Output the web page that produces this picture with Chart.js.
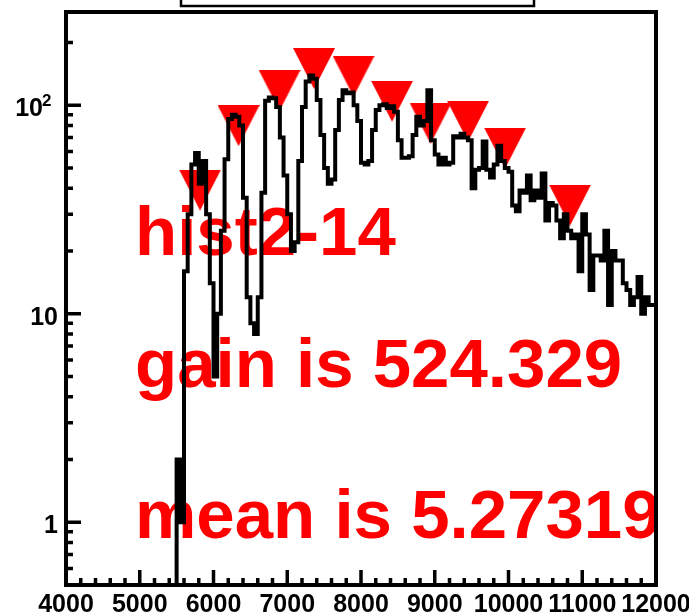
<!DOCTYPE html>
<html lang="en">
<head>
<meta charset="UTF-8" />
<title>hist2-14</title>
<script src="https://cdn.jsdelivr.net/npm/chart.js"></script>
<style>
  body { margin: 0; background: #fff; }
  canvas { display: block; }
</style>
</head>
<body>

<canvas id="histChart" width="689" height="615"></canvas>

<script>
  // histogram contents, 50 wide bins starting at 5500 (empty bins drawn on the log floor)
  const binStart = 5500;
  const binWidth = 50;
  const counts = [
    0,
    2, 1, 16, 30, 52, 59, 42, 54, 30, 14,
    5, 10, 25, 55, 86, 90, 88, 80, 36, 12,
    9, 8, 12, 38, 105, 109, 108, 98, 70, 46,
    30, 20, 22, 54, 98, 130, 139, 134, 106, 72,
    50, 42, 44, 76, 106, 118, 114, 115, 100, 84,
    53, 52, 54, 76, 95, 100, 101, 97, 99, 93,
    68, 56, 56, 57, 72, 88, 80, 84, 118, 68,
    58, 52, 56, 52, 53, 71, 70, 73, 70, 68,
    40, 49, 50, 67, 49, 45, 52, 64, 54, 50,
    48, 33, 31, 39, 38, 46, 35, 39, 36, 47,
    28, 34, 33, 28, 23, 30, 25, 23, 24, 16,
    30, 24, 13, 19, 19, 18, 25, 11, 20, 18,
    18, 14, 13, 11, 12, 15, 10, 12, 11
  ];

  // peak markers
  const peakX = [5817, 6339, 6895, 7363, 7899, 8421, 8943, 9451, 9953, 10834];
  const peakY = [39.2, 79.8, 118, 150, 138, 104.5, 82, 83.8, 62.3, 33.2];

  // axes
  const xTickValues = [4000, 5000, 6000, 7000, 8000, 9000, 10000, 11000, 12000];
  const xTickLabels = ['4000', '5000', '6000', '7000', '8000', '9000', '10000', '11000', '12000'];
  const yTickValues = [1, 10, 100];
  const yTickLabels = ['1', '10', '10^2'];
  const yMinorTicks = [0.6, 0.7, 0.8, 0.9, 2, 3, 4, 5, 6, 7, 8, 9, 20, 30, 40, 50, 60, 70, 80, 90, 200];

  const textLines = ['hist2-14', 'gain is 524.329', 'mean is 5.27319'];

  const xMin = 4000, xMax = 12000;
  const yMin = 0.5, yMax = 280;

  const histPoints = counts.map((c, i) => ({ x: binStart + i * binWidth, y: c > 0 ? c : yMin }));
  histPoints.push({ x: binStart + counts.length * binWidth, y: counts[counts.length - 1] });

  const peakPoints = peakX.map((x, i) => ({ x: x, y: peakY[i] }));

  // ROOT style down triangle marker
  const tri = document.createElement('canvas');
  tri.width = 42;
  tri.height = 41;
  const tctx = tri.getContext('2d');
  tctx.fillStyle = '#ff0000';
  tctx.beginPath();
  tctx.moveTo(0, 0);
  tctx.lineTo(42, 0);
  tctx.lineTo(21, 41);
  tctx.closePath();
  tctx.fill();

  const axisFont = { family: 'Liberation Sans', weight: 'bold', size: 25 };

  const rootFrame = {
    id: 'rootFrame',
    beforeDatasetsDraw(chart) {
      const ctx = chart.ctx;
      const a = chart.chartArea;
      const baselines = [255, 387, 538];
      ctx.save();
      ctx.fillStyle = '#ff0000';
      ctx.font = 'bold 69px "Liberation Sans"';
      ctx.textBaseline = 'alphabetic';
      ctx.textAlign = 'left';
      textLines.forEach((t, i) => ctx.fillText(t, a.left + 69, baselines[i]));
      ctx.restore();
    },
    afterDraw(chart) {
      const ctx = chart.ctx;
      const a = chart.chartArea;
      const xs = chart.scales.x;
      const ys = chart.scales.y;
      ctx.save();
      ctx.strokeStyle = '#000';
      ctx.lineCap = 'butt';

      // ticks pointing into the frame
      ctx.lineWidth = 3.5;
      ctx.beginPath();
      for (let v = xMin; v <= xMax; v += 200) {
        const len = xTickValues.includes(v) ? 15 : 7;
        const px = xs.getPixelForValue(v);
        ctx.moveTo(px, a.bottom);
        ctx.lineTo(px, a.bottom - len);
      }
      yTickValues.forEach(v => {
        const py = ys.getPixelForValue(v);
        ctx.moveTo(a.left, py);
        ctx.lineTo(a.left + 15, py);
      });
      yMinorTicks.forEach(v => {
        const py = ys.getPixelForValue(v);
        ctx.moveTo(a.left, py);
        ctx.lineTo(a.left + 7, py);
      });
      ctx.stroke();

      // y labels, with a real superscript for the power of ten
      ctx.fillStyle = '#000';
      ctx.textBaseline = 'alphabetic';
      yTickValues.forEach((v, i) => {
        const py = ys.getPixelForValue(v);
        const parts = yTickLabels[i].split('^');
        if (parts.length === 2) {
          ctx.font = 'bold 25px "Liberation Sans"';
          ctx.textAlign = 'right';
          ctx.fillText(parts[0], a.left - 23, py + 11);
          ctx.font = 'bold 17px "Liberation Sans"';
          ctx.textAlign = 'left';
          ctx.fillText(parts[1], a.left - 24, py + 1);
        } else {
          ctx.font = 'bold 25px "Liberation Sans"';
          ctx.textAlign = 'right';
          ctx.fillText(parts[0], a.left - 8, py + 11);
        }
      });

      // frame
      ctx.lineWidth = 4;
      ctx.strokeRect(a.left, a.top, a.right - a.left, a.bottom - a.top);

      // bottom of the title box
      ctx.fillStyle = '#fff';
      ctx.fillRect(181, -5, 353, 11);
      ctx.lineWidth = 2.5;
      ctx.strokeRect(181, -5, 353, 11);
      ctx.restore();
    }
  };

  const ctx = document.getElementById('histChart').getContext('2d');

  new Chart(ctx, {
    type: 'line',
    data: {
      datasets: [
        {
          label: 'hist2-14',
          data: histPoints,
          stepped: 'after',
          borderColor: '#000',
          borderWidth: 4,
          borderJoinStyle: 'miter',
          pointRadius: 0,
          fill: false,
          order: 0
        },
        {
          label: 'peaks',
          data: peakPoints,
          showLine: false,
          pointStyle: tri,
          pointRadius: 21,
          backgroundColor: '#ff0000',
          borderWidth: 0,
          order: 1
        }
      ]
    },
    options: {
      responsive: false,
      animation: false,
      layout: { autoPadding: false, padding: { left: 0, right: 33, top: 12, bottom: 0 } },
      plugins: {
        legend: { display: false },
        tooltip: { enabled: false }
      },
      scales: {
        x: {
          type: 'linear',
          min: xMin,
          max: xMax,
          grid: { display: false, drawTicks: false, tickLength: 0 },
          border: { display: false },
          afterBuildTicks: s => { s.ticks = xTickValues.map(v => ({ value: v })); },
          ticks: {
            autoSkip: false,
            maxRotation: 0,
            minRotation: 0,
            padding: 5,
            color: '#000',
            font: axisFont,
            callback: v => xTickLabels[xTickValues.indexOf(v)]
          },
          afterFit: s => { s.height = 30; s.paddingLeft = 0; s.paddingRight = 0; }
        },
        y: {
          type: 'logarithmic',
          min: yMin,
          max: yMax,
          grid: { display: false, drawTicks: false, tickLength: 0 },
          border: { display: false },
          afterBuildTicks: s => { s.ticks = yTickValues.map(v => ({ value: v })); },
          ticks: { display: false },
          afterFit: s => { s.width = 66; s.paddingTop = 0; s.paddingBottom = 0; }
        }
      }
    },
    plugins: [rootFrame]
  });
</script>

</body>
</html>
